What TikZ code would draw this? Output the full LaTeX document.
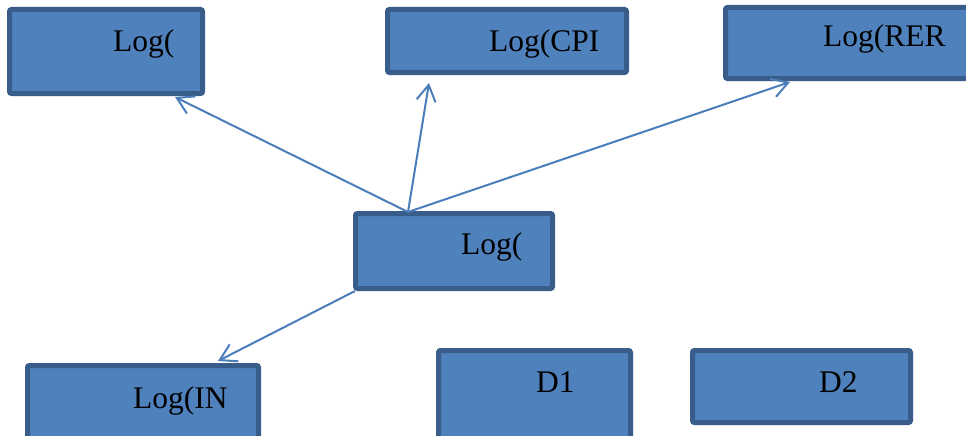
\documentclass[tikz,border=0pt]{standalone}
\usepackage{fontspec}
\setmainfont{Liberation Serif}
\usetikzlibrary{arrows.meta}
\definecolor{boxfill}{HTML}{4F81BD}
\definecolor{boxline}{HTML}{385D8A}
\definecolor{arrowc}{HTML}{4A7EBB}
\begin{document}
\begin{tikzpicture}[x=1pt,y=-1pt,
  box/.style={draw=boxline, fill=boxfill, line width=5pt, rounded corners=2pt, inner sep=0pt},
  lbl/.style={anchor=base west, inner sep=0pt, font=\fontsize{31.5}{36}\selectfont},
  conn/.style={draw=arrowc, line width=2pt, -{Straight Barb[length=16pt,width=19pt]}}]
\clip (0,0) rectangle (966,436);
\fill[white] (0,0) rectangle (966,436);
% boxes
\node[box, minimum width=193pt, minimum height=84pt] (b1) at (106,51.5) {};
\node[box, minimum width=239pt, minimum height=63pt] (b2) at (507,41) {};
\node[box, minimum width=262pt, minimum height=71pt] (b3) at (856.5,43) {};
\node[box, minimum width=197pt, minimum height=75pt] (b4) at (454,251) {};
\node[box, minimum width=231pt, minimum height=82pt] (b5) at (143,406.5) {};
\node[box, minimum width=192pt, minimum height=97pt] (b6) at (534.5,399) {};
\node[box, minimum width=218pt, minimum height=72pt] (b7) at (801.5,386.5) {};
% labels
\node[lbl] (l1) at (113,52) {Log(};
\node[lbl] (l2) at (489,52) {Log(CPI};
\node[lbl] (l3) at (823,47) {Log(RER};
\node[lbl] (l4) at (461,254) {Log(};
\node[lbl] (l5) at (133,408) {Log(IN};
\node[lbl] (l6) at (536,392) {D1};
\node[lbl] (l7) at (819,392) {D2};
% connector ends
\coordinate (src) at (408,212);
\coordinate (srcb) at (355,291);
\coordinate (t1) at (175,97);
\coordinate (t2) at (429,83);
\coordinate (t3) at (790,82);
\coordinate (t5) at (218,361);
\draw[conn] (src) -- (t1);
\draw[conn] (src) -- (t2);
\draw[conn] (src) -- (t3);
\draw[conn] (srcb) -- (t5);
\end{tikzpicture}
\end{document}
